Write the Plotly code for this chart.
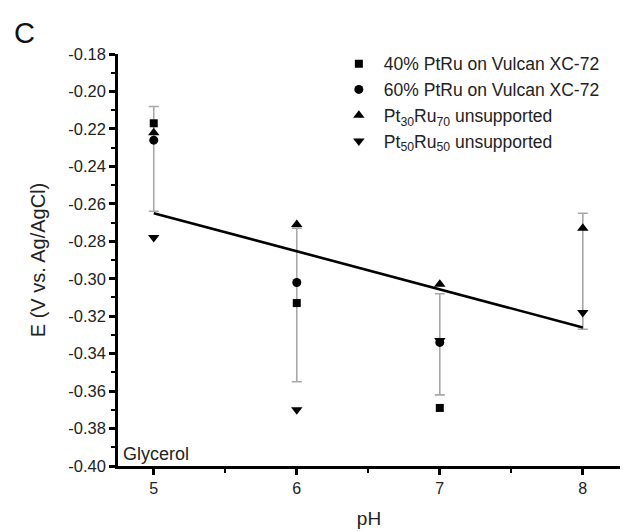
import plotly.graph_objects as go

# pH values at which the potential was measured
ph = [5, 6, 7, 8]

# Onset potential E (V vs. Ag/AgCl) for each catalyst
e_ptru40_vulcan = [-0.217, -0.313, -0.369]          # pH 5, 6, 7
e_ptru60_vulcan = [-0.226, -0.302, -0.334]          # pH 5, 6, 7
e_pt30ru70 = [-0.222, -0.271, -0.303, -0.273]       # pH 5, 6, 7, 8
e_pt50ru50 = [-0.278, -0.370, -0.333, -0.318]       # pH 5, 6, 7, 8

# Mean and standard deviation at each pH
e_mean = [-0.236, -0.314, -0.335, -0.296]
e_sd = [0.028, 0.041, 0.027, 0.031]

# Linear trend of the mean potential
fit_ph = [5, 8]
fit_e = [-0.265, -0.326]

# y-axis ticks, labelled with a plain hyphen as the minus sign
y_ticks = [-0.40, -0.38, -0.36, -0.34, -0.32, -0.30,
           -0.28, -0.26, -0.24, -0.22, -0.20, -0.18]
y_tick_text = ["-0.40", "-0.38", "-0.36", "-0.34", "-0.32", "-0.30",
               "-0.28", "-0.26", "-0.24", "-0.22", "-0.20", "-0.18"]

names = [
    "40% PtRu on Vulcan XC-72",
    "60% PtRu on Vulcan XC-72",
    "Pt<sub>30</sub>Ru<sub>70</sub> unsupported",
    "Pt<sub>50</sub>Ru<sub>50</sub> unsupported",
]

FONT = "Arial, Liberation Sans, sans-serif"
TXT = "#222"

fig = go.Figure()

# error bars around the mean (marker itself hidden)
fig.add_trace(go.Scatter(
    x=ph, y=e_mean, mode="markers",
    marker=dict(size=1, color="rgba(0,0,0,0)"),
    error_y=dict(type="data", array=e_sd, visible=True,
                 color="#a8a8a8", thickness=1.6, width=5),
    showlegend=False, hoverinfo="skip",
))

# trend line
fig.add_trace(go.Scatter(
    x=fit_ph, y=fit_e, mode="lines",
    line=dict(color="black", width=2.6),
    showlegend=False,
))

series = [
    (ph[:3], e_ptru40_vulcan, "square", 8),
    (ph[:3], e_ptru60_vulcan, "circle", 9),
    (ph, e_pt30ru70, "triangle-up", 10),
    (ph, e_pt50ru50, "triangle-down", 10),
]
for (xs, ys, sym, sz), nm in zip(series, names):
    fig.add_trace(go.Scatter(
        x=xs, y=ys, mode="markers", name=nm,
        marker=dict(symbol=sym, size=sz, color="black"),
    ))

fig.update_layout(
    width=637, height=531,
    margin=dict(l=118, r=17, t=54, b=65),
    paper_bgcolor="white", plot_bgcolor="white",
    font=dict(family=FONT, size=16, color=TXT),
    legend=dict(
        x=0.43, y=1.02, xanchor="left", yanchor="top",
        bgcolor="rgba(0,0,0,0)", font=dict(size=17.5, color=TXT),
        tracegroupgap=0, itemwidth=40,
    ),
    xaxis=dict(
        range=[4.75, 8.26], tickvals=[5, 6, 7, 8],
        automargin=False,
        showgrid=False, zeroline=False,
        showline=True, linecolor="black", linewidth=2.5,
        ticks="outside", ticklen=6, tickwidth=2.5, tickcolor="black",
        tickfont=dict(size=16, color=TXT),
        minor=dict(tickvals=[5.5, 6.5, 7.5], ticks="outside", ticklen=4,
                   tickwidth=2, tickcolor="black"),
        title=dict(text="pH", font=dict(size=19, color=TXT), standoff=16),
    ),
    yaxis=dict(
        range=[-0.40, -0.18], tickvals=y_ticks, ticktext=y_tick_text,
        automargin=False,
        showgrid=False, zeroline=False,
        showline=True, linecolor="black", linewidth=2.5,
        ticks="outside", ticklen=6, tickwidth=2.5, tickcolor="black",
        tickfont=dict(size=16.5, color=TXT),
        minor=dict(dtick=0.01, tick0=-0.40, ticks="outside", ticklen=4,
                   tickwidth=2, tickcolor="black"),
        title=dict(text="E (V vs. Ag/AgCl)", font=dict(size=20, color=TXT),
                   standoff=18),
    ),
    annotations=[
        dict(text="C", x=-0.187, y=1.051, xref="paper", yref="paper",
             xanchor="center", yanchor="middle", showarrow=False,
             font=dict(size=29, color="#111")),
        dict(text="Glycerol", x=0.006, y=0.0, xref="paper", yref="paper",
             xanchor="left", yanchor="bottom", showarrow=False,
             font=dict(size=18, color=TXT)),
    ],
)

fig.write_html("out.html")
